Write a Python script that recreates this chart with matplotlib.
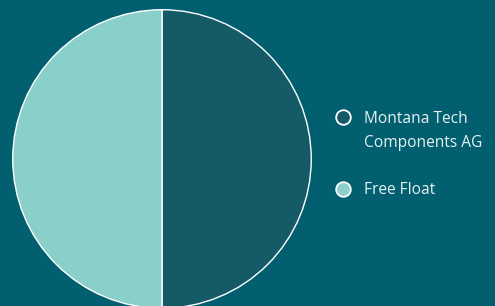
import matplotlib
matplotlib.use("Agg")
import matplotlib.pyplot as plt
from matplotlib.lines import Line2D

labels = ["Montana Tech\nComponents AG", "Free Float"]
values = [50, 50]
colors = ["#155b67", "#88d0c9"]
bg = "#015f6f"

W, H = 495, 306
fig = plt.figure(figsize=(W/100, H/100), dpi=100, facecolor=bg)
cx, cy, r = 162, 306 - 159, 150
ax = fig.add_axes([(cx - r)/W, (cy - r)/H, 2*r/W, 2*r/H])
ax.set_facecolor(bg)
ax.pie(values, colors=colors, startangle=90, counterclock=False,
       wedgeprops=dict(edgecolor="white", linewidth=1.0), radius=1)
ax.set_xlim(-1.005, 1.005)
ax.set_ylim(-1.005, 1.005)
ax.set_aspect("equal")
ax.axis("off")

font = "Open Sans"
mark_y = [117, 189]
text_y = [[119, 143], [190]]
for i, lab in enumerate(labels):
    fig.add_artist(Line2D([343/W], [1 - mark_y[i]/H], marker="o", markersize=10.5,
                          markerfacecolor=colors[i], markeredgecolor="white",
                          markeredgewidth=1.3, transform=fig.transFigure))
    for line, ty in zip(lab.split("\n"), text_y[i]):
        fig.text(364/W, 1 - ty/H, line, color="#e8f2f2", fontsize=11.2,
                 family=font, va="center", ha="left")

fig.savefig("out.png", dpi=100, facecolor=bg)
